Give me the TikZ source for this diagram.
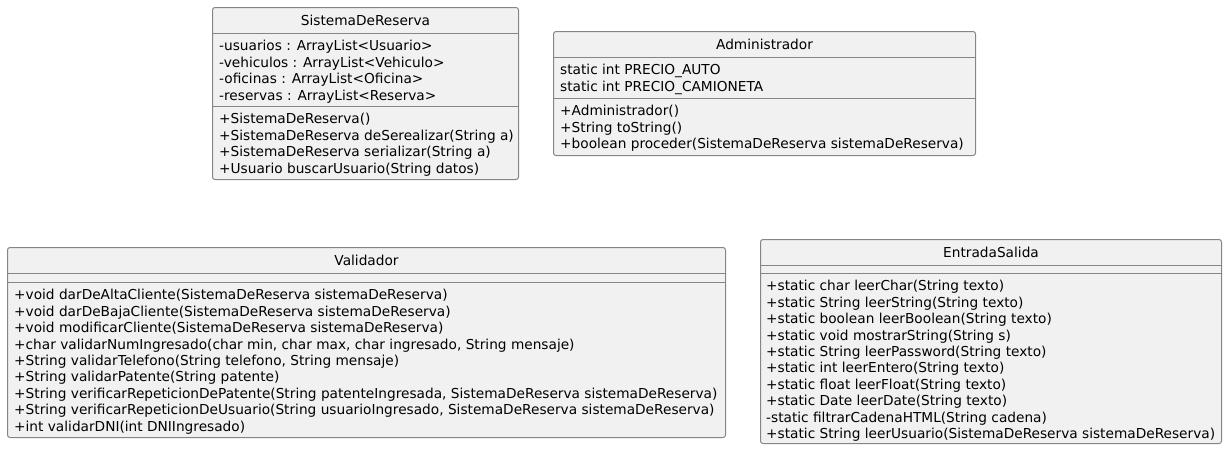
\documentclass[tikz,border=0pt]{standalone}
\usepackage{fontspec}
\setmainfont{DejaVu Sans}
\usetikzlibrary{positioning}
\definecolor{umlfill}{HTML}{F1F1F1}
\definecolor{umlline}{HTML}{858585}
\newcommand{\umlfont}{\fontsize{13.7}{16}\selectfont}

\begin{document}
\begin{tikzpicture}[x=1pt, y=-1pt,
  classbox/.style={draw=umlline, fill=umlfill, line width=1pt, rounded corners=2.5pt},
  sepline/.style={draw=umlline, line width=1pt},
  classname/.style={inner sep=0pt, anchor=base, font=\umlfont},
  member/.style={inner sep=0pt, anchor=base west, font=\umlfont}]
\useasboundingbox (0,0) rectangle (1227,450);

% SistemaDeReserva
\draw[classbox] (212.5,7.5) rectangle (518.5,179.5);
\node[classname] (sdr) at (365.5,25.5) {SistemaDeReserva};
\draw[sepline] (212.5,33.5) -- (518.5,33.5);
\foreach \txt [count=\i] in {{-usuarios : ArrayList<Usuario>}, {-vehiculos : ArrayList<Vehiculo>},
    {-oficinas : ArrayList<Oficina>}, {-reservas : ArrayList<Reserva>}}
  \node[member] (sdr-a\i) at (219, 34.5+16.4*\i) {\txt};
\draw[sepline] (212.5,106.5) -- (518.5,106.5);
\foreach \txt [count=\i] in {{+SistemaDeReserva()}, {+SistemaDeReserva deSerealizar(String a)},
    {+SistemaDeReserva serializar(String a)}, {+Usuario buscarUsuario(String datos)}}
  \node[member] (sdr-m\i) at (219, 107.5+16.4*\i) {\txt};

% Administrador
\draw[classbox] (553.5,31.5) rectangle (975.5,155.5);
\node[classname] (adm) at (764.5,49.5) {Administrador};
\draw[sepline] (553.5,57.5) -- (975.5,57.5);
\foreach \txt [count=\i] in {{static int PRECIO\_AUTO}, {static int PRECIO\_CAMIONETA}}
  \node[member] (adm-a\i) at (560, 58.5+16.4*\i) {\txt};
\draw[sepline] (553.5,98.5) -- (975.5,98.5);
\foreach \txt [count=\i] in {{+Administrador()}, {+String toString()},
    {+boolean proceder(SistemaDeReserva sistemaDeReserva)}}
  \node[member] (adm-m\i) at (560, 99.5+16.4*\i) {\txt};

% Validador
\draw[classbox] (7.5,247.5) rectangle (725.5,437.5);
\node[classname] (val) at (366.5,265.5) {Validador};
\draw[sepline] (7.5,273.5) -- (725.5,273.5);
\draw[sepline] (7.5,282.5) -- (725.5,282.5);
\foreach \txt [count=\i] in {{+void darDeAltaCliente(SistemaDeReserva sistemaDeReserva)},
    {+void darDeBajaCliente(SistemaDeReserva sistemaDeReserva)},
    {+void modificarCliente(SistemaDeReserva sistemaDeReserva)},
    {+char validarNumIngresado(char min, char max, char ingresado, String mensaje)},
    {+String validarTelefono(String telefono, String mensaje)},
    {+String validarPatente(String patente)},
    {+String verificarRepeticionDePatente(String patenteIngresada, SistemaDeReserva sistemaDeReserva)},
    {+String verificarRepeticionDeUsuario(String usuarioIngresado, SistemaDeReserva sistemaDeReserva)},
    {+int validarDNI(int DNIIngresado)}}
  \node[member] (val-m\i) at (14, 283.5+16.4*\i) {\txt};

% EntradaSalida
\draw[classbox] (760.5,239.5) rectangle (1221.5,443.5);
\node[classname] (es) at (991,257.5) {EntradaSalida};
\draw[sepline] (760.5,265.5) -- (1221.5,265.5);
\draw[sepline] (760.5,273.5) -- (1221.5,273.5);
\foreach \txt [count=\i] in {{+static char leerChar(String texto)},
    {+static String leerString(String texto)},
    {+static boolean leerBoolean(String texto)},
    {+static void mostrarString(String s)},
    {+static String leerPassword(String texto)},
    {+static int leerEntero(String texto)},
    {+static float leerFloat(String texto)},
    {+static Date leerDate(String texto)},
    {-static filtrarCadenaHTML(String cadena)},
    {+static String leerUsuario(SistemaDeReserva sistemaDeReserva)}}
  \node[member] (es-m\i) at (766, 274.5+16.4*\i) {\txt};
\end{tikzpicture}
\end{document}
